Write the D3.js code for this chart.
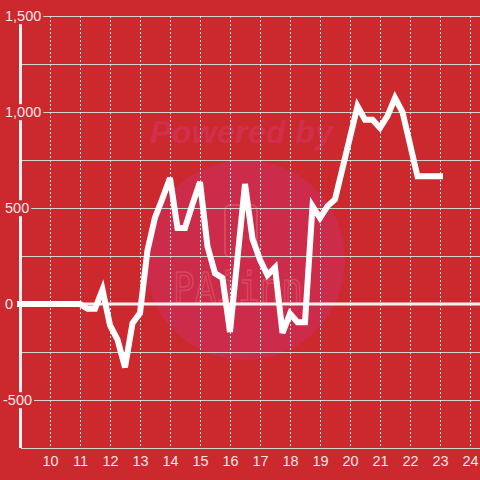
<!DOCTYPE html>
<html><head><meta charset="utf-8">
<script src="https://cdn.jsdelivr.net/npm/d3@7"></script>
<style>html,body{margin:0;padding:0;background:#cc292e;}svg{display:block;}</style>
</head><body>
<script>
// Data
const times = [9, 9.5, 10, 10.5, 11, 11.25, 11.5, 11.75, 12, 12.25, 12.5, 12.75, 13, 13.25, 13.5, 13.75, 14, 14.25, 14.5, 14.75, 15, 15.25, 15.5, 15.75, 16, 16.5, 16.75, 17, 17.25, 17.5, 17.75, 18, 18.25, 18.5, 18.75, 19, 19.25, 19.5, 20.25, 20.5, 20.75, 21, 21.25, 21.5, 21.75, 22.25, 22.5, 22.75, 23];
const values = [0, 0, 0, 0, 0, -25, -25, 75, -110, -185, -330, -100, -47, 280, 450, 550, 656, 396, 396, 520, 635, 300, 160, 135, -146, 625, 340, 230, 150, 190, -150, -50, -95, -95, 510, 448, 510, 545, 1030, 960, 960, 918, 980, 1073, 1000, 665, 665, 665, 665];
const xTicks = [10, 11, 12, 13, 14, 15, 16, 17, 18, 19, 20, 21, 22, 23, 24];
const yGrid = [-750, -500, -250, 0, 250, 500, 750, 1000, 1250, 1500];
const yLabels = [-500, 0, 500, 1000, 1500];

const W = 480, H = 480;
const bg = "#cc292e";
const svg = d3.select("body").append("svg").attr("width", W).attr("height", H);
svg.append("rect").attr("width", W).attr("height", H).attr("fill", bg);

const x = d3.scaleLinear().domain([9, 24 + 1/3]).range([20, 480]);
const y = d3.scaleLinear().domain([-750, 1500]).range([448, 16]);

// Watermark
const wm = svg.append("g");
wm.append("circle").attr("cx", 245).attr("cy", 260).attr("r", 100).attr("fill", "#cd2b4a");
wm.append("text").attr("x", 150).attr("y", 143).attr("font-family", "Liberation Sans, Arial, sans-serif")
  .attr("font-size", 32).attr("font-weight", "bold").attr("font-style", "italic")
  .attr("fill", "#d22f4d").attr("textLength", 183).text("Powered by");
wm.append("rect").attr("x", 225).attr("y", 205).attr("width", 32).attr("height", 52).attr("rx", 5)
  .attr("fill", "none").attr("stroke", "#d9485f").attr("stroke-width", 2);
wm.append("text").attr("x", 173).attr("y", 303).attr("font-family", "DejaVu Sans Mono, monospace")
  .attr("font-size", 42).attr("fill", "none").attr("stroke", "#d9485f").attr("stroke-width", 1.5)
  .attr("textLength", 130).attr("lengthAdjust", "spacingAndGlyphs").text("PAiinn");

// Horizontal grid
svg.append("g").selectAll("line").data(yGrid.filter(v => v !== 0)).join("line")
  .attr("x1", 21).attr("x2", W).attr("y1", d => y(d) + 0.5).attr("y2", d => y(d) + 0.5)
  .attr("stroke", "#d2d2d2").attr("stroke-width", 1);

// Vertical dotted grid
svg.append("g").selectAll("line").data(xTicks).join("line")
  .attr("x1", d => Math.round(x(d)) + 0.5).attr("x2", d => Math.round(x(d)) + 0.5)
  .attr("y1", y(1500)).attr("y2", y(-750))
  .attr("stroke", "#e6e6e6").attr("stroke-width", 1).attr("stroke-dasharray", "2,2");

// Zero line
svg.append("line").attr("x1", 17).attr("x2", W).attr("y1", y(0)).attr("y2", y(0))
  .attr("stroke", "#f2f2f2").attr("stroke-width", 3);

// Y axis line
svg.append("line").attr("x1", 20.5).attr("x2", 20.5).attr("y1", y(1500)).attr("y2", y(-750))
  .attr("stroke", "#f2f2f2").attr("stroke-width", 3);

// Y labels with background
const fmt = d3.formatLocale({decimal: ".", thousands: ",", grouping: [3], currency: ["", ""], minus: "-"}).format(",");
const yl = svg.append("g").selectAll("g").data(yLabels).join("g");
yl.each(function(d) {
  const g = d3.select(this);
  const t = g.append("text").attr("x", d < 0 ? 3 : 5).attr("y", y(d)).attr("dy", "0.36em")
    .attr("font-family", "Liberation Sans, Arial, sans-serif").attr("font-size", 14.5)
    .attr("fill", "#f3e6e6").text(fmt(d));
  const bb = t.node().getBBox();
  g.insert("rect", "text").attr("x", bb.x - 2).attr("y", bb.y).attr("width", bb.width + 4).attr("height", bb.height)
    .attr("fill", bg);
});

// X labels
svg.append("g").selectAll("text").data(xTicks).join("text")
  .attr("x", d => x(d) + 0.5).attr("y", 466).attr("text-anchor", "middle")
  .attr("font-family", "Liberation Sans, Arial, sans-serif").attr("font-size", 14.5)
  .attr("fill", "#f3e6e6").text(d => d);

// Data line
const line = d3.line().x((d, i) => x(times[i])).y(d => y(d));
svg.append("path").datum(values).attr("d", line)
  .attr("fill", "none").attr("stroke", "#ffffff").attr("stroke-width", 6)
  .attr("stroke-linecap", "square").attr("stroke-linejoin", "miter");
</script>
</body></html>
